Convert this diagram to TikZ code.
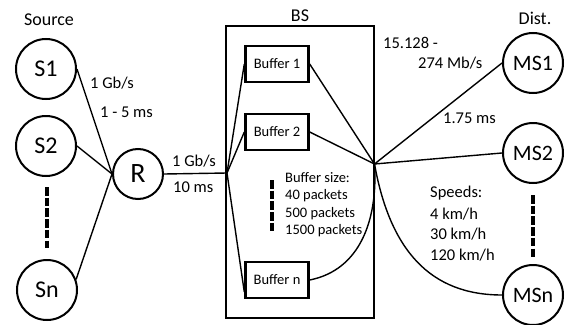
\documentclass[tikz,border=0pt]{standalone}
\usepackage{fontspec}
\setmainfont{Carlito}
\begin{document}
\begin{tikzpicture}[x=1pt,y=-1pt,
  station/.style={circle,draw,line width=2pt,minimum size=60pt,inner sep=0pt,font=\fontsize{24}{27}\selectfont},
  mstation/.style={station,font=\fontsize{22}{25}\selectfont},
  bufbox/.style={rectangle,draw,line width=2.4pt,minimum width=63pt,minimum height=36pt,inner sep=0pt,font=\fontsize{14.5}{17}\selectfont},
  link/.style={line width=1.4pt},
  lbl/.style={inner sep=0pt,anchor=west,font=\fontsize{16.5}{19}\selectfont},
  small/.style={inner sep=0pt,anchor=west,font=\fontsize{14.5}{17}\selectfont},
  title/.style={inner sep=0pt,font=\fontsize{18}{21}\selectfont},
  dots/.style={line width=3.5pt,dash pattern=on 8.5pt off 2.2pt}
]
\useasboundingbox (0,0) rectangle (567,324);
% left side
\node[title] (src) at (49,20) {Source};
\node[station] (S1) at (46,69) {S1};
\node[station] (S2) at (46,146) {S2};
\node[station] (Sn) at (47,290) {Sn};
\node[station,minimum size=50pt,font=\fontsize{28}{31}\selectfont] (R) at (138,174) {R};
\coordinate (sd1) at (47,187);
\coordinate (sd2) at (47,248);
\draw[dots] (sd1) -- (sd2);
\draw[link] (S1.east) -- (R.west);
\draw[link] (S2.east) -- (R.west);
\draw[link] (Sn.20) -- (R.west);
\node[lbl] (l1) at (90,83) {1 Gb/s};
\node[lbl] (l2) at (100,112) {1 - 5 ms};
% BS
\node[title] (bst) at (300,16) {BS};
\node[rectangle,draw,line width=2.2pt,minimum width=148pt,minimum height=292pt,inner sep=0pt] (BS) at (300,172) {};
\coordinate (hl) at (227,173);
\coordinate (hr) at (374.5,164);
\draw[link] (R.east) -- (hl);
\node[lbl] (l3) at (172,161) {1 Gb/s};
\node[lbl] (l4) at (173,187) {10 ms};
\node[bufbox] (B1) at (277,64) {Buffer 1};
\node[bufbox] (B2) at (277,132) {Buffer 2};
\node[bufbox] (Bn) at (277,280) {Buffer n};
\draw[link] (hl) -- (B1.west);
\draw[link] (hl) -- (B2.west);
\draw[link] (hl) -- ([yshift=-12pt]Bn.west);
\draw[link] (B1.east) -- (hr);
\draw[link] (B2.east) -- (hr);
\draw[link] (Bn.east) .. controls (360,270) and (378,220) .. (hr);
\coordinate (bd1) at (272,180);
\coordinate (bd2) at (272,233);
\draw[dots] (bd1) -- (bd2);
\node[small] (bs1) at (285,178) {Buffer size:};
\node[small] (bs2) at (285,196) {40 packets};
\node[small] (bs3) at (285,214) {500 packets};
\node[small] (bs4) at (285,231) {1500 packets};
% right side
\node[title] (dist) at (535,18) {Dist.};
\node[mstation] (MS1) at (533,63) {MS1};
\node[mstation] (MS2) at (533,153) {MS2};
\node[mstation] (MSn) at (533,295) {MSn};
\coordinate (md1) at (533,195);
\coordinate (md2) at (533,258);
\draw[dots] (md1) -- (md2);
\draw[link] (hr) -- (MS1.west);
\draw[link] (hr) -- (MS2.west);
\draw[link] (hr) .. controls (390,250) and (430,295) .. (MSn.west);
\node[lbl] (r1) at (383,43) {15.128 -};
\node[lbl] (r2) at (418,63) {274 Mb/s};
\node[lbl] (r3) at (443,118) {1.75 ms};
\node[lbl] (sp1) at (430,193) {Speeds:};
\node[lbl] (sp2) at (430,214) {4 km/h};
\node[lbl] (sp3) at (430,234) {30 km/h};
\node[lbl] (sp4) at (430,255) {120 km/h};
\end{tikzpicture}
\end{document}
